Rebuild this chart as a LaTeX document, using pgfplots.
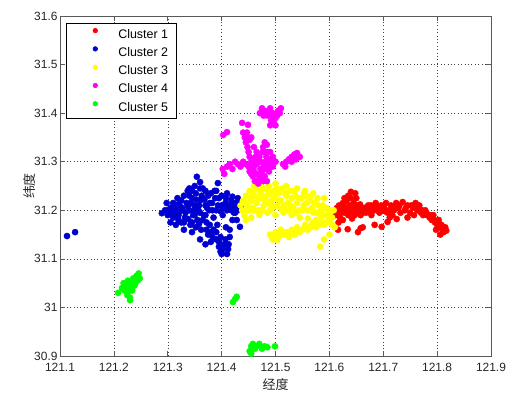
\documentclass[border=0pt]{standalone}
\usepackage{fontspec}
\setmainfont{Liberation Sans}
\newfontfamily\cjk{Noto Sans CJK SC}
\usepackage{pgfplots}
\pgfplotsset{compat=1.18}
\definecolor{cred}{rgb}{1,0,0}
\definecolor{cblue}{rgb}{0,0,0.82}
\definecolor{cyel}{rgb}{1,1,0}
\definecolor{cmag}{rgb}{1,0,1}
\definecolor{cgreen}{rgb}{0,1,0}
\begin{document}
\begin{tikzpicture}
\begin{axis}[
  width=431bp, height=340bp, scale only axis,
  xmin=121.1, xmax=121.9, ymin=30.9, ymax=31.6,
  xtick={121.1,121.2,121.3,121.4,121.5,121.6,121.7,121.8,121.9},
  xticklabels={121.1,121.2,121.3,121.4,121.5,121.6,121.7,121.8,121.9},
  ytick={30.9,31,31.1,31.2,31.3,31.4,31.5,31.6},
  yticklabels={30.9,31,31.1,31.2,31.3,31.4,31.5,31.6},
  tick align=inside, major tick length=5bp,
  xmajorgrids, ymajorgrids,
  grid style={black!75, line width=0.5bp, dash pattern=on 0.8bp off 2.6bp},
  axis line style={black!65, line width=0.6bp},
  every tick/.style={black!65, line width=0.6bp},
  /pgf/number format/assume math mode=true,
  tick label style={font=\fontsize{12}{14}\selectfont, text=black!85},
  xticklabel style={yshift=-4bp},
  yticklabel style={xshift=1bp},
  xlabel={\cjk 经度}, ylabel={\cjk 纬度},
  label style={font=\fontsize{13}{15}\selectfont, text=black!85},
  xlabel style={yshift=0bp},
  ylabel style={yshift=-8bp},
  legend cell align=left,
  legend style={at={(0,1)}, anchor=north west, xshift=6bp, yshift=-7bp,
    font=\fontsize{12.5}{14}\selectfont, draw=black, line width=0.6bp,
    inner xsep=8bp, inner ysep=5bp, row sep=6.5bp,
    nodes={inner sep=0pt, text height=9bp, text depth=2bp},
    /tikz/every odd column/.append style={column sep=6bp}},
  legend image code/.code={\path[draw=none] (0,0) -- (38bp,0); \draw[#1, mark size=2.3pt] plot[only marks] coordinates {(21bp,4bp)};},
  every axis plot/.append style={only marks, mark=*, mark size=3.1pt},
]
\addplot[cred, mark options={fill=cred}] coordinates {
(121.612,31.19)(121.615,31.20)(121.618,31.21)(121.62,31.185)(121.622,31.2)(121.625,31.215)
(121.628,31.195)(121.63,31.205)(121.632,31.22)(121.635,31.19)(121.638,31.21)(121.64,31.225)
(121.642,31.2)(121.645,31.215)(121.648,31.235)(121.65,31.195)(121.652,31.21)(121.655,31.205)
(121.658,31.19)(121.66,31.2)(121.635,31.23)(121.642,31.183)(121.625,31.18)(121.617,31.175)
(121.665,31.205)(121.668,31.195)(121.672,31.21)(121.675,31.2)(121.678,31.19)(121.68,31.205)
(121.683,31.2)(121.686,31.215)(121.69,31.205)(121.693,31.195)(121.696,31.21)(121.699,31.2)
(121.702,31.205)(121.705,31.215)(121.708,31.195)(121.711,31.2)(121.714,31.21)(121.717,31.19)
(121.72,31.2)(121.724,31.215)(121.728,31.205)(121.732,31.195)(121.736,31.217)(121.74,31.2)
(121.745,31.21)(121.75,31.195)(121.755,31.205)(121.76,31.215)(121.763,31.2)(121.767,31.21)
(121.77,31.195)(121.774,31.19)(121.778,31.2)
(121.782,31.19)(121.786,31.185)(121.79,31.18)(121.793,31.19)(121.796,31.175)(121.8,31.17)
(121.803,31.18)(121.805,31.165)(121.808,31.17)(121.81,31.16)(121.812,31.155)(121.815,31.165)
(121.817,31.158)(121.806,31.15)(121.798,31.16)
(121.616,31.16)(121.634,31.161)(121.653,31.155)(121.658,31.163)(121.662,31.165)(121.684,31.17)
(121.697,31.166)(121.708,31.176)(121.712,31.185)(121.725,31.182)(121.745,31.185)(121.757,31.19)
(121.614,31.205)(121.62,31.195)(121.627,31.21)(121.633,31.2)(121.638,31.195)(121.644,31.205)
(121.647,31.19)(121.653,31.2)(121.657,31.212)(121.662,31.195)(121.668,31.205)(121.673,31.2)
(121.677,31.21)(121.688,31.2)(121.695,31.2)(121.703,31.198)(121.715,31.2)(121.722,31.208)
(121.73,31.21)(121.742,31.205)(121.752,31.21)(121.765,31.205)(121.772,31.2)(121.78,31.195)
(121.788,31.19)(121.795,31.18)(121.802,31.175)(121.809,31.165)(121.814,31.16)(121.64,31.238)
(121.628,31.225)(121.65,31.225)
};
\addlegendentry{Cluster 1}
\addplot[cblue, mark options={fill=cblue}] coordinates {
(121.289,31.194)(121.298,31.215)(121.295,31.2)(121.3,31.19)(121.305,31.205)(121.31,31.185)
(121.31,31.215)(121.315,31.2)(121.318,31.225)(121.32,31.19)(121.322,31.21)(121.325,31.175)
(121.328,31.2)(121.33,31.23)(121.332,31.185)(121.335,31.215)(121.337,31.24)(121.34,31.2)
(121.342,31.17)(121.345,31.225)(121.347,31.19)(121.35,31.21)(121.352,31.235)(121.355,31.18)
(121.357,31.2)(121.36,31.22)(121.362,31.16)(121.365,31.245)(121.367,31.19)(121.37,31.21)
(121.372,31.175)(121.375,31.23)(121.377,31.2)(121.38,31.155)(121.382,31.215)(121.385,31.185)
(121.387,31.24)(121.39,31.2)(121.392,31.17)(121.395,31.225)(121.398,31.145)(121.4,31.21)
(121.402,31.19)(121.405,31.13)(121.407,31.215)(121.41,31.2)(121.412,31.12)(121.415,31.145)
(121.418,31.22)(121.42,31.205)(121.423,31.195)(121.426,31.215)(121.43,31.2)(121.434,31.166)
(121.4,31.11)(121.395,31.125)(121.39,31.14)(121.385,31.16)(121.38,31.135)(121.375,31.15)
(121.354,31.269)(121.36,31.258)(121.393,31.256)(121.36,31.245)(121.35,31.25)(121.34,31.23)
(121.325,31.22)(121.33,31.16)(121.315,31.17)(121.345,31.155)(121.36,31.14)(121.37,31.13)
(121.408,31.165)(121.42,31.18)(121.415,31.16)(121.43,31.225)(121.305,31.175)
(121.3,31.2)(121.308,31.195)(121.312,31.208)(121.318,31.212)(121.322,31.198)(121.327,31.205)
(121.333,31.195)(121.338,31.208)(121.343,31.215)(121.348,31.2)(121.353,31.222)(121.358,31.21)
(121.363,31.23)(121.368,31.222)(121.373,31.205)(121.378,31.215)(121.383,31.2)(121.388,31.225)
(121.393,31.21)(121.398,31.198)(121.403,31.205)(121.408,31.225)(121.413,31.21)(121.418,31.2)
(121.423,31.21)(121.428,31.215)(121.433,31.205)(121.436,31.21)(121.33,31.175)(121.338,31.182)
(121.345,31.175)(121.352,31.165)(121.358,31.172)(121.365,31.18)(121.372,31.16)(121.378,31.17)
(121.383,31.145)(121.39,31.155)(121.395,31.135)(121.402,31.12)(121.407,31.14)(121.41,31.11)
(121.398,31.115)(121.413,31.13)(121.34,31.245)(121.345,31.24)(121.37,31.24)(121.38,31.235)
(121.39,31.24)(121.4,31.23)(121.41,31.235)(121.42,31.228)(121.425,31.195)(121.428,31.18)
(121.315,31.19)(121.32,31.18)(121.36,31.195)(121.37,31.19)(121.35,31.19)
(121.113,31.147)(121.128,31.155)
};
\addlegendentry{Cluster 2}
\addplot[cyel, mark options={fill=cyel}] coordinates {
(121.435,31.21)(121.438,31.2)(121.44,31.22)(121.442,31.19)(121.445,31.23)(121.448,31.21)
(121.45,31.2)(121.452,31.24)(121.455,31.22)(121.458,31.205)(121.46,31.25)(121.462,31.23)
(121.465,31.215)(121.468,31.2)(121.47,31.24)(121.472,31.255)(121.475,31.225)(121.478,31.21)
(121.48,31.245)(121.483,31.23)(121.485,31.215)(121.488,31.25)(121.49,31.235)(121.493,31.22)
(121.495,31.205)(121.498,31.24)(121.5,31.225)(121.503,31.21)(121.506,31.235)(121.51,31.22)
(121.513,31.245)(121.516,31.21)(121.52,31.23)(121.523,31.215)(121.527,31.24)(121.53,31.225)
(121.533,31.205)(121.537,31.23)(121.54,31.215)(121.544,31.2)(121.548,31.225)(121.552,31.21)
(121.556,31.23)(121.56,31.2)(121.564,31.22)(121.568,31.205)(121.572,31.215)(121.576,31.195)
(121.58,31.21)(121.585,31.2)(121.59,31.19)(121.595,31.205)(121.6,31.195)(121.605,31.185)
(121.608,31.2)(121.445,31.18)(121.455,31.185)(121.47,31.19)(121.485,31.195)(121.5,31.19)
(121.515,31.195)(121.53,31.19)(121.545,31.185)(121.56,31.183)(121.575,31.18)(121.46,31.26)
(121.48,31.265)(121.5,31.255)(121.52,31.25)(121.54,31.245)(121.555,31.24)(121.57,31.235)
(121.59,31.225)
(121.443,31.215)(121.447,31.2)(121.453,31.225)(121.457,31.235)(121.463,31.245)(121.467,31.225)
(121.473,31.235)(121.477,31.245)(121.482,31.22)(121.487,31.24)(121.492,31.21)(121.497,31.23)
(121.502,31.245)(121.507,31.22)(121.512,31.2)(121.518,31.235)(121.522,31.2)(121.528,31.21)
(121.535,31.24)(121.538,31.195)(121.543,31.225)(121.55,31.2)(121.553,31.235)(121.558,31.215)
(121.566,31.23)(121.57,31.195)(121.578,31.225)(121.582,31.19)(121.588,31.21)(121.597,31.19)
(121.603,31.2)(121.46,31.2)(121.475,31.2)(121.49,31.2)(121.51,31.205)(121.525,31.2)
(121.49,31.15)(121.495,31.14)(121.5,31.155)(121.505,31.145)(121.51,31.16)(121.515,31.15)
(121.52,31.155)(121.525,31.145)(121.53,31.16)(121.535,31.15)(121.54,31.165)(121.545,31.155)
(121.55,31.16)(121.555,31.17)(121.56,31.16)(121.565,31.165)(121.57,31.175)(121.575,31.165)
(121.58,31.17)(121.585,31.18)(121.59,31.17)(121.595,31.175)(121.6,31.18)(121.605,31.17)
(121.583,31.125)(121.59,31.14)(121.6,31.15)(121.61,31.165)(121.47,31.195)
(121.493,31.145)(121.508,31.152)(121.523,31.152)(121.538,31.158)(121.553,31.163)(121.567,31.17)
(121.582,31.175)(121.597,31.178)(121.503,31.139)
};
\addlegendentry{Cluster 3}
\addplot[cmag, mark options={fill=cmag}] coordinates {
(121.471,31.4)(121.475,31.41)(121.48,31.405)(121.485,31.395)(121.49,31.41)(121.495,31.4)
(121.5,31.39)(121.505,31.405)(121.51,31.41)(121.497,31.38)(121.492,31.385)(121.5,31.375)
(121.478,31.395)
(121.438,31.38)(121.449,31.376)(121.403,31.355)(121.41,31.361)
(121.44,31.36)(121.443,31.35)(121.445,31.34)(121.448,31.33)(121.45,31.32)(121.452,31.31)
(121.455,31.3)(121.458,31.305)(121.445,31.355)
(121.477,31.33)(121.48,31.32)(121.483,31.31)(121.486,31.3)(121.49,31.29)(121.493,31.3)
(121.495,31.31)(121.488,31.28)(121.478,31.29)
(121.514,31.295)(121.52,31.3)(121.525,31.305)(121.53,31.31)(121.535,31.315)(121.54,31.318)
(121.545,31.31)(121.518,31.29)
(121.402,31.285)(121.405,31.275)(121.41,31.29)(121.415,31.295)(121.42,31.285)(121.425,31.3)
(121.43,31.295)(121.435,31.29)(121.44,31.3)(121.445,31.295)(121.45,31.29)(121.455,31.285)
(121.46,31.29)(121.465,31.295)
(121.452,31.28)(121.458,31.27)(121.462,31.26)(121.465,31.275)(121.47,31.265)(121.475,31.28)
(121.48,31.27)(121.484,31.26)(121.468,31.255)
(121.47,31.31)(121.473,31.3)(121.476,31.32)(121.482,31.3)(121.485,31.32)(121.49,31.305)
(121.463,31.31)(121.468,31.3)(121.472,31.285)(121.482,31.285)(121.487,31.295)(121.46,31.28)
(121.455,31.275)(121.475,31.27)(121.478,31.26)(121.48,31.34)(121.484,31.335)(121.49,31.32)
(121.465,31.32)(121.46,31.33)(121.452,31.345)(121.447,31.36)(121.455,31.35)(121.495,31.29)
(121.5,31.3)(121.53,31.3)(121.538,31.305)(121.48,31.4)(121.487,31.405)(121.493,31.39)
(121.503,31.395)(121.508,31.4)(121.49,31.375)
};
\addlegendentry{Cluster 4}
\addplot[cgreen, mark options={fill=cgreen}] coordinates {
(121.208,31.03)(121.215,31.04)(121.218,31.05)(121.22,31.035)(121.222,31.045)(121.225,31.025)
(121.226,31.055)(121.228,31.04)(121.23,31.02)(121.232,31.05)(121.234,31.035)(121.236,31.06)
(121.238,31.045)(121.24,31.05)(121.242,31.065)(121.244,31.055)(121.246,31.07)(121.248,31.06)
(121.23,31.015)(121.225,31.03)
(121.421,31.011)(121.425,31.017)(121.428,31.022)
(121.452,30.91)(121.455,30.92)(121.458,30.925)(121.462,30.915)(121.465,30.92)(121.47,30.925)
(121.475,30.915)(121.48,30.92)(121.485,30.918)(121.499,30.92)(121.455,30.905)
};
\addlegendentry{Cluster 5}
\end{axis}
\pgfresetboundingbox
\path (current axis.south west) ++(-60bp,-38bp);
\path (current axis.north east) ++(16bp,16bp);
\end{tikzpicture}
\end{document}
